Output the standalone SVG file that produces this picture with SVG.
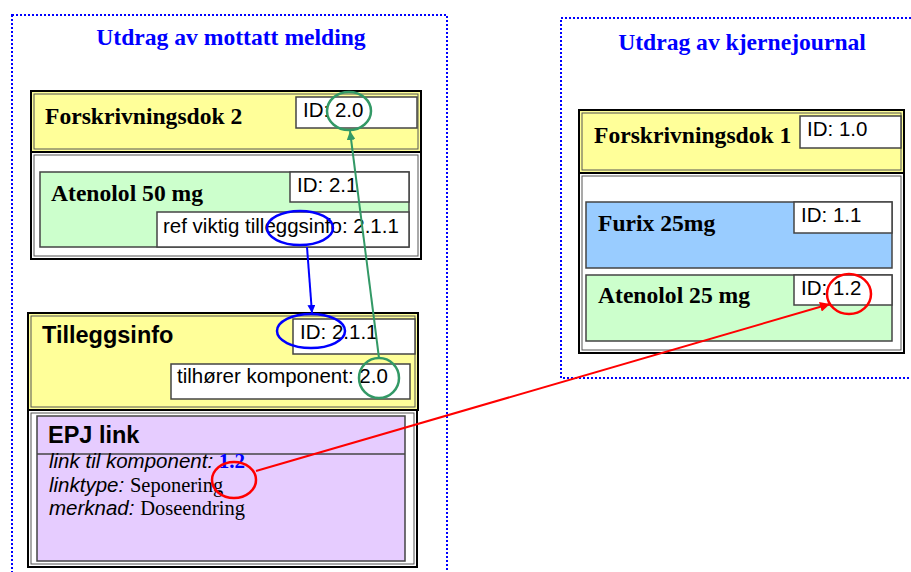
<svg xmlns="http://www.w3.org/2000/svg" width="911" height="572" viewBox="0 0 911 572">
<style>
.frame{fill:none;stroke:#0000FF;stroke-width:2;stroke-dasharray:2 2}
.title{font-family:"Liberation Serif","Times New Roman",serif;font-weight:bold;font-size:23.6px;fill:#0000FF}
.o{stroke:#000;stroke-width:2}
.i{fill:none;stroke:#555;stroke-width:1}
.box{stroke:#444;stroke-width:1.5}
.idb{fill:#fff;stroke:#444;stroke-width:1.5}
.tb{font-family:"Liberation Serif","Times New Roman",serif;font-weight:bold;font-size:23.6px;fill:#000}
.ar{font-family:"Liberation Sans",Arial,sans-serif;font-size:20.5px;fill:#000}
.arb{font-family:"Liberation Sans",Arial,sans-serif;font-weight:bold;font-size:23.5px;fill:#000}
.it{font-family:"Liberation Sans",Arial,sans-serif;font-style:italic;font-size:20.5px;fill:#000}
.tr{font-family:"Liberation Serif","Times New Roman",serif;font-size:20.5px;fill:#000}
</style>
<defs>
<marker id="ab" viewBox="0 0 10 10" refX="10" refY="5" markerWidth="8" markerHeight="8" markerUnits="userSpaceOnUse" orient="auto"><path d="M0,0L10,5L0,10z" fill="#0000FF"/></marker>
<marker id="ag" viewBox="0 0 10 10" refX="10" refY="5" markerWidth="9" markerHeight="9" markerUnits="userSpaceOnUse" orient="auto"><path d="M0,0L10,5L0,10z" fill="#339966"/></marker>
<marker id="ar" viewBox="0 0 10 10" refX="10" refY="5" markerWidth="10" markerHeight="10" markerUnits="userSpaceOnUse" orient="auto"><path d="M0,0L10,5L0,10z" fill="#FF0000"/></marker>
</defs>
<rect width="911" height="572" fill="#fff"/>

<g id="frame-mottatt">
<rect class="frame" x="12" y="15" width="435" height="570"/>
<text class="title" x="231" y="45" text-anchor="middle">Utdrag av mottatt melding</text>
</g>
<g id="frame-kjernejournal">
<rect class="frame" x="561" y="18" width="370" height="360"/>
<text class="title" x="742" y="50" text-anchor="middle">Utdrag av kjernejournal</text>
</g>

<g id="forskrivningsdok2">
<rect class="o" x="31" y="152" width="390" height="107" fill="#fff"/>
<rect class="i" x="34" y="155" width="384" height="101"/>
<rect class="o" x="31" y="91" width="390" height="61" fill="#FFFF99"/>
<rect class="i" x="34" y="94" width="384" height="55" stroke="#666633"/>
<text class="tb" x="45" y="124">Forskrivningsdok 2</text>
<rect class="idb" x="296" y="97" width="121" height="31"/>
<text class="ar" x="303" y="117">ID: 2.0</text>
</g>

<g id="atenolol50">
<rect class="box" x="40" y="172" width="369" height="75" fill="#CCFFCC"/>
<text class="tb" x="51" y="201">Atenolol 50 mg</text>
<rect class="idb" x="290" y="172" width="119" height="30"/>
<text class="ar" x="297" y="192">ID: 2.1</text>
<rect class="idb" x="157" y="212" width="252" height="35"/>
<text class="ar" x="163" y="233">ref viktig tilleggsinfo: 2.1.1</text>
</g>

<g id="tilleggsinfo">
<rect class="o" x="28" y="410" width="389" height="157" fill="#fff"/>
<rect class="i" x="31" y="413" width="383" height="151"/>
<rect class="o" x="28" y="313" width="390" height="97" fill="#FFFF99"/>
<rect class="i" x="31" y="316" width="384" height="91" stroke="#666633"/>
<text class="arb" x="42" y="343">Tilleggsinfo</text>
<rect class="idb" x="293" y="319" width="122" height="35"/>
<text class="ar" x="300" y="339">ID: 2.1.1</text>
<rect class="idb" x="171" y="364" width="239" height="35"/>
<text class="ar" x="177" y="383">tilhører komponent: 2.0</text>
</g>

<g id="epj-link">
<rect class="box" x="37" y="416" width="368" height="145" fill="#E6CCFF"/>
<line x1="37" y1="454" x2="405" y2="454" stroke="#444" stroke-width="1.5"/>
<text class="arb" x="48" y="443">EPJ link</text>
<text x="49" y="468"><tspan class="it">link til komponent: </tspan><tspan font-family="Liberation Serif, Times New Roman, serif" font-weight="bold" font-size="21px" fill="#0000FF">1.2</tspan></text>
<text x="49" y="492"><tspan class="it">linktype: </tspan><tspan class="tr">Seponering</tspan></text>
<text x="49" y="515"><tspan class="it">merknad: </tspan><tspan class="tr">Doseendring</tspan></text>
</g>

<g id="forskrivningsdok1">
<rect class="o" x="579" y="173" width="325" height="180" fill="#fff"/>
<rect class="i" x="582" y="176" width="319" height="174"/>
<rect class="o" x="579" y="110" width="325" height="63" fill="#FFFF99"/>
<rect class="i" x="582" y="113" width="319" height="57" stroke="#666633"/>
<text class="tb" x="594" y="143">Forskrivningsdok 1</text>
<rect class="idb" x="800" y="116" width="101" height="32"/>
<text class="ar" x="807" y="136">ID: 1.0</text>
</g>

<g id="furix25">
<rect class="box" x="586" y="202" width="306" height="66" fill="#99CCFF"/>
<text class="tb" x="598" y="231">Furix 25mg</text>
<rect class="idb" x="794" y="202" width="98" height="31"/>
<text class="ar" x="801" y="222">ID: 1.1</text>
</g>

<g id="atenolol25">
<rect class="box" x="586" y="275" width="306" height="66" fill="#CCFFCC"/>
<text class="tb" x="598" y="303">Atenolol 25 mg</text>
<rect class="idb" x="794" y="275" width="98" height="30"/>
<text class="ar" x="801" y="295">ID: 1.2</text>
</g>

<g id="connectors" fill="none">
<ellipse cx="300" cy="228" rx="33" ry="17" stroke="#0000FF" stroke-width="2.5"/>
<ellipse cx="311" cy="331" rx="34" ry="17" stroke="#0000FF" stroke-width="2.5"/>
<line x1="307" y1="247" x2="312" y2="313" stroke="#0000FF" stroke-width="2" marker-end="url(#ab)"/>
<ellipse cx="349" cy="111" rx="22" ry="19" stroke="#339966" stroke-width="2.5"/>
<ellipse cx="379" cy="378" rx="20" ry="20" stroke="#339966" stroke-width="2.5"/>
<line x1="379" y1="358" x2="350" y2="131" stroke="#339966" stroke-width="2" marker-end="url(#ag)"/>
<ellipse cx="234" cy="480" rx="22" ry="18" stroke="#FF0000" stroke-width="2.5"/>
<ellipse cx="849" cy="294" rx="22" ry="20" stroke="#FF0000" stroke-width="2.5"/>
<line x1="256" y1="471" x2="830" y2="304" stroke="#FF0000" stroke-width="2" marker-end="url(#ar)"/>
</g>
</svg>
